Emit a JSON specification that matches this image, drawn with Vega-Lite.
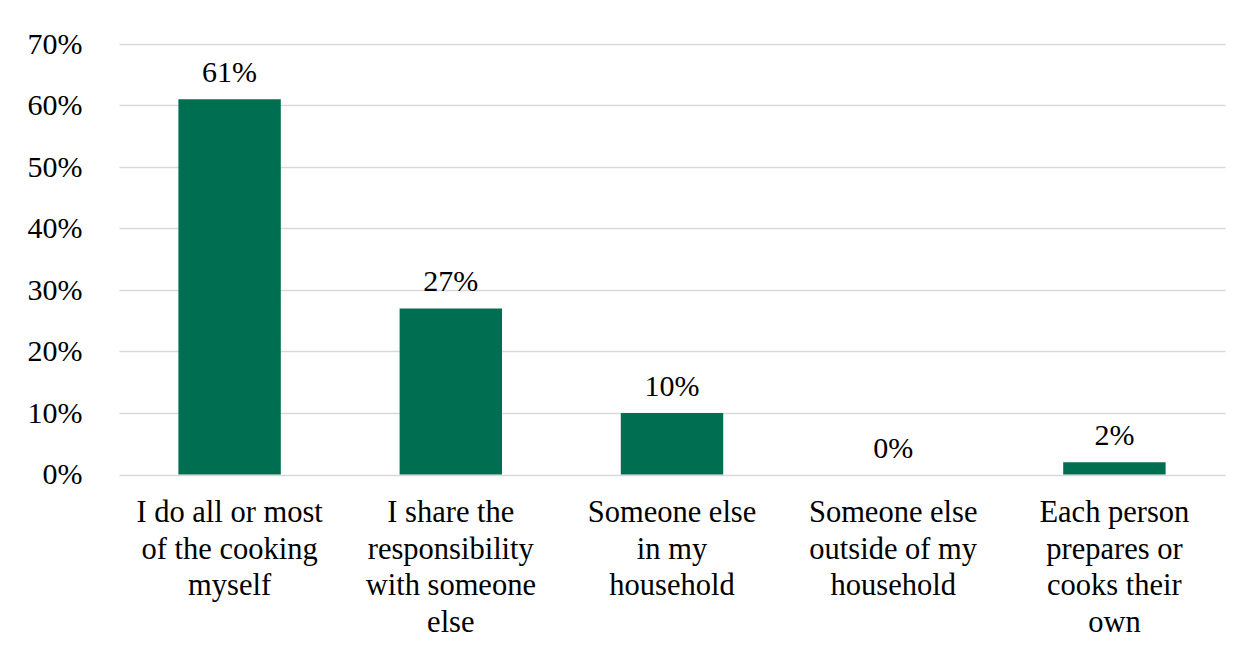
{
  "$schema": "https://vega.github.io/schema/vega-lite/v6.json",
  "autosize": "none",
  "padding": {"left": 119, "top": 44, "right": 17, "bottom": 175},
  "width": 1106,
  "height": 430.5,
  "background": "white",
  "config": {
    "view": {"stroke": null},
    "font": "Liberation Serif"
  },
  "data": {
    "values": [
      {"response": "I do all or most\nof the cooking\nmyself", "share": 0.61},
      {"response": "I share the\nresponsibility\nwith someone\nelse", "share": 0.27},
      {"response": "Someone else\nin my\nhousehold", "share": 0.10},
      {"response": "Someone else\noutside of my\nhousehold", "share": 0.0},
      {"response": "Each person\nprepares or\ncooks their\nown", "share": 0.02}
    ]
  },
  "encoding": {
    "x": {
      "field": "response",
      "type": "nominal",
      "sort": null,
      "scale": {"paddingInner": 0.537, "paddingOuter": 0.2685},
      "axis": {
        "title": null,
        "labelAngle": 0,
        "labelExpr": "split(datum.label, '\\n')",
        "labelFont": "Liberation Serif",
        "labelFontSize": 30.5,
        "labelColor": "#000000",
        "labelLineHeight": 36.7,
        "labelBaseline": "top",
        "labelPadding": 23,
        "labelLimit": 0,
        "ticks": false,
        "domain": false,
        "grid": false
      }
    },
    "y": {
      "field": "share",
      "type": "quantitative",
      "scale": {"domain": [0, 0.7], "nice": false},
      "axis": {
        "title": null,
        "values": [0, 0.1, 0.2, 0.3, 0.4, 0.5, 0.6, 0.7],
        "format": ".0%",
        "labelFont": "Liberation Serif",
        "labelFontSize": 30,
        "labelColor": "#000000",
        "labelPadding": 37,
        "ticks": false,
        "domain": false,
        "grid": true,
        "gridColor": "#d9d9d9",
        "gridWidth": 1.5
      }
    }
  },
  "layer": [
    {"mark": {"type": "bar", "color": "#006F51"}},
    {
      "mark": {
        "type": "text",
        "baseline": "alphabetic",
        "dy": -17,
        "font": "Liberation Serif",
        "fontSize": 30,
        "color": "#000000"
      },
      "encoding": {"text": {"field": "share", "type": "quantitative", "format": ".0%"}}
    }
  ]
}
